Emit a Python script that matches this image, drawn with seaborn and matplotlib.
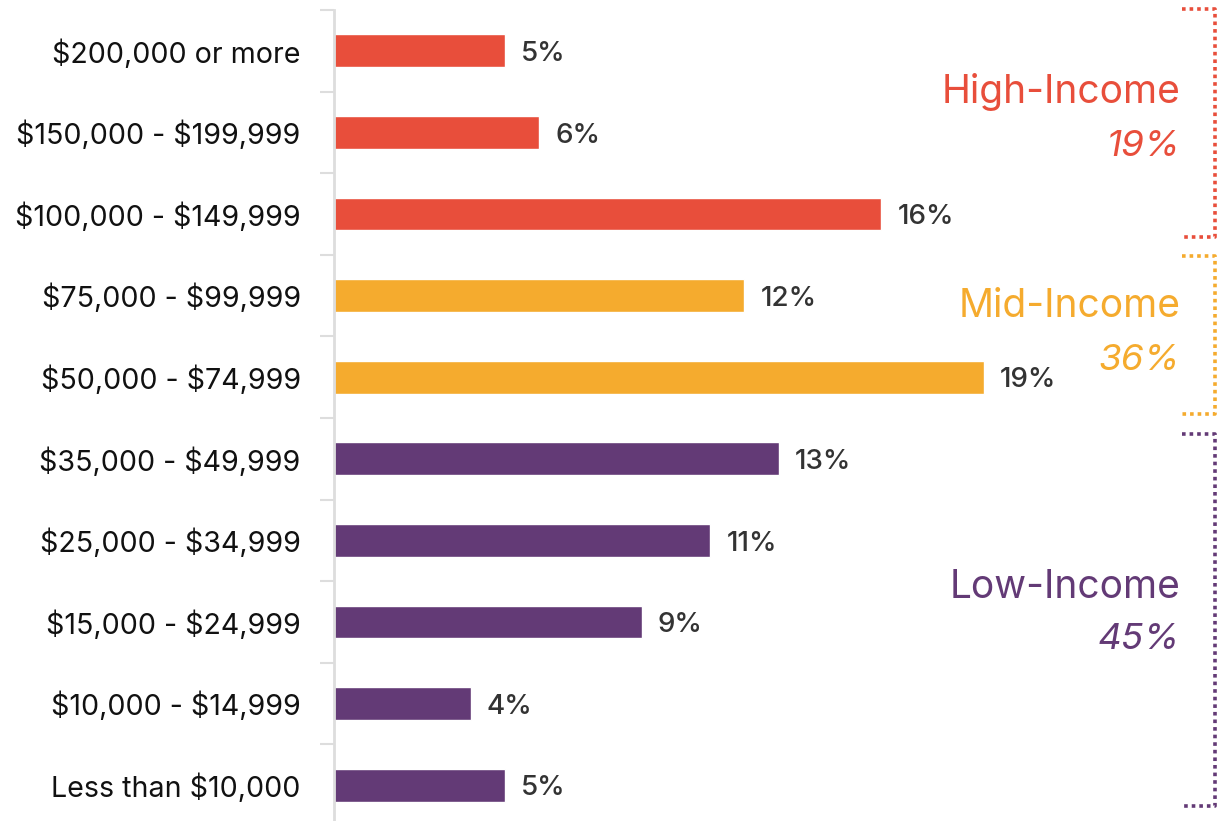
import matplotlib
matplotlib.use("Agg")
import matplotlib.pyplot as plt
import seaborn as sns
import pandas as pd

categories = ["$200,000 or more", "$150,000 - $199,999", "$100,000 - $149,999",
              "$75,000 - $99,999", "$50,000 - $74,999", "$35,000 - $49,999",
              "$25,000 - $34,999", "$15,000 - $24,999", "$10,000 - $14,999",
              "Less than $10,000"]
values = [5, 6, 16, 12, 19, 13, 11, 9, 4, 5]
groups = ["High", "High", "High", "Mid", "Mid", "Low", "Low", "Low", "Low", "Low"]
group_names = ["High-Income", "Mid-Income", "Low-Income"]
group_totals = ["19%", "36%", "45%"]
group_keys = ["High", "Mid", "Low"]
palette = {"High": "#E84E3B", "Mid": "#F5AB2E", "Low": "#633A76"}

sns.set_theme(style="white")
plt.rcParams['font.family'] = ['Inter', 'DejaVu Sans']

df = pd.DataFrame({"cat": categories, "val": values, "grp": groups})

fig = plt.figure(figsize=(12.27, 8.21), dpi=100)
W, H = 1227, 821
x0, x1 = 334, 1227
y_top, y_bot = 10, 826
ax = fig.add_axes([x0 / W, (H - y_bot) / H, (x1 - x0) / W, (y_bot - y_top) / H])

sns.barplot(data=df, y="cat", x="val", hue="grp", palette=palette, width=0.4,
            dodge=False, legend=False, ax=ax, order=categories, saturation=1)

px_per = 34.2
ax.set_xlim(0, (x1 - x0) / px_per)
ax.set_ylim(len(categories) - 0.5, -0.5)
ax.set_xlabel("")
ax.set_ylabel("")
ax.set_xticks([])
for s in ["top", "right", "bottom"]:
    ax.spines[s].set_visible(False)
ax.spines["left"].set_color("#dddddd")
ax.spines["left"].set_linewidth(2)

ax.set_yticks(range(len(categories)))
ax.set_yticklabels(categories, fontsize=20.6, color="#111111")
for t in ax.get_yticklabels():
    t.set_parse_math(False)
ax.tick_params(axis="y", which="major", length=0, pad=24)
ax.set_yticks([i - 0.5 for i in range(len(categories) + 1)], minor=True)
ax.tick_params(axis="y", which="minor", length=10, width=1.5, color="#dddddd", left=True)

for i, v in enumerate(values):
    ax.text(v + 0.47, i + 0.04, f"{v}%", va="center", ha="left", fontsize=20,
            fontweight="medium", color="#333333")

# group labels
label_pos = [(0.51, 1.17), (3.13, 3.79), (6.58, 7.22)]
for k, name, tot, (yn, yt) in zip(group_keys, group_names, group_totals, label_pos):
    ax.text(24.75, yn, name, ha="right", va="center", fontsize=28,
            color=palette[k], clip_on=False)
    ax.text(24.75, yt, tot, ha="right", va="center", fontsize=26.5,
            color=palette[k], style="italic", clip_on=False)

# brackets
brackets = [(-0.51, 2.28), (2.52, 4.45), (4.69, 9.26)]
bx0, bx1 = 24.8, 25.76
for k, (ya, yb) in zip(group_keys, brackets):
    ax.plot([bx0, bx1, bx1, bx0], [ya, ya, yb, yb], color=palette[k],
            lw=2.6, linestyle=(0, (1, 1.1)), clip_on=False, solid_capstyle="butt",
            dash_capstyle="butt")

fig.savefig("out.png", dpi=100)
